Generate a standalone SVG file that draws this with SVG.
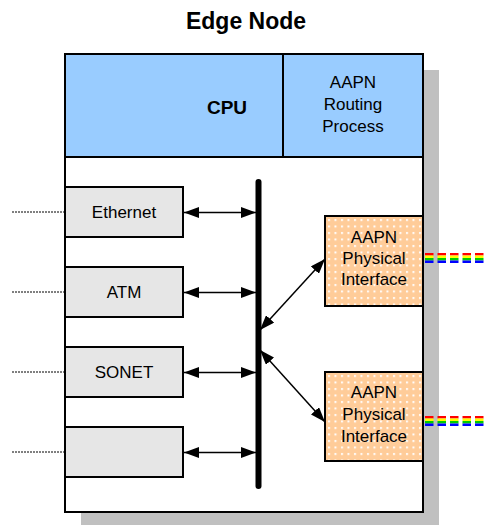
<svg xmlns="http://www.w3.org/2000/svg" width="486" height="525" viewBox="0 0 486 525">
<style>
.t{font-family:"Liberation Sans",Arial,sans-serif;font-size:17px;fill:#000;text-anchor:middle}
.b{font-weight:bold}
.box{stroke:#000;stroke-width:2}
.gray{fill:#E6E6E6}
.dot{fill:none;stroke:#000;stroke-width:1;stroke-dasharray:2 1}
.arr{fill:none;stroke:#000;stroke-width:1.5;marker-start:url(#ah);marker-end:url(#ah)}
.fib{fill:none;stroke-width:2.5;stroke-dasharray:8.5 4}
</style>
<defs>
<marker id="ah" markerUnits="userSpaceOnUse" markerWidth="15" markerHeight="11" refX="15" refY="5.5" orient="auto-start-reverse" viewBox="0 0 15 11">
<path d="M0,0 L15,5.5 L0,11 z" fill="#000"/>
</marker>
<pattern id="dots" patternUnits="userSpaceOnUse" width="6.5" height="6.5" x="327" y="218">
<rect width="6.5" height="6.5" fill="#FFCC99"/>
<rect x="1" y="1" width="2" height="2" fill="#FFFFFF"/>
</pattern>
</defs>
<text id="title" class="t b" x="246" y="29" style="font-size:23px">Edge Node</text>
<g id="edge-node">
<rect x="81" y="70" width="358" height="460" fill="#C0C0C0"/>
<rect class="box" x="65" y="54" width="358" height="458" fill="#FFFFFF"/>
</g>
<g id="cpu">
<rect class="box" x="65" y="54" width="358" height="103" fill="#99CCFF"/>
<text class="t b" x="227" y="114" style="font-size:19px">CPU</text>
</g>
<g id="routing">
<line x1="283" y1="54" x2="283" y2="157" stroke="#000" stroke-width="2"/>
<text class="t" x="353" y="88">AAPN</text>
<text class="t" x="353" y="110">Routing</text>
<text class="t" x="353" y="132">Process</text>
</g>
<g id="ethernet">
<rect class="box gray" x="65" y="187" width="118" height="50"/>
<text class="t" x="124" y="218">Ethernet</text>
</g>
<g id="atm">
<rect class="box gray" x="65" y="267" width="118" height="50"/>
<text class="t" x="124" y="298">ATM</text>
</g>
<g id="sonet">
<rect class="box gray" x="65" y="347" width="118" height="50"/>
<text class="t" x="124" y="378">SONET</text>
</g>
<g id="blank">
<rect class="box gray" x="65" y="427" width="118" height="50"/>
</g>
<g id="bus">
<line x1="258.5" y1="182" x2="258.5" y2="486" stroke="#000" stroke-width="6" stroke-linecap="round"/>
</g>
<g id="phy1">
<rect class="box" x="325" y="216" width="98" height="90" fill="url(#dots)"/>
<text class="t" x="374" y="243">AAPN</text>
<text class="t" x="374" y="264">Physical</text>
<text class="t" x="374" y="285">Interface</text>
</g>
<g id="phy2">
<rect class="box" x="325" y="372" width="98" height="89" fill="url(#dots)"/>
<text class="t" x="374" y="398">AAPN</text>
<text class="t" x="374" y="420">Physical</text>
<text class="t" x="374" y="442">Interface</text>
</g>
<g id="connectors">
<line class="dot" x1="12" y1="212" x2="65" y2="212"/>
<line class="dot" x1="12" y1="292" x2="65" y2="292"/>
<line class="dot" x1="12" y1="372" x2="65" y2="372"/>
<line class="dot" x1="12" y1="452" x2="65" y2="452"/>
<line class="arr" x1="184" y1="212.5" x2="256" y2="212.5"/>
<line class="arr" x1="184" y1="292.5" x2="256" y2="292.5"/>
<line class="arr" x1="184" y1="372.5" x2="256" y2="372.5"/>
<line class="arr" x1="184" y1="452.5" x2="256" y2="452.5"/>
<line class="arr" x1="260" y1="330" x2="325" y2="259"/>
<line class="arr" x1="260" y1="350" x2="325" y2="422"/>
<g id="fiber1">
<line class="fib" stroke="#FF0000" x1="425" y1="254.25" x2="486" y2="254.25"/>
<line class="fib" stroke="#FFFF00" x1="425" y1="256.75" x2="486" y2="256.75"/>
<line class="fib" stroke="#00CC00" x1="425" y1="259.25" x2="486" y2="259.25"/>
<line class="fib" stroke="#0000FF" x1="425" y1="261.75" x2="486" y2="261.75"/>
</g>
<g id="fiber2">
<line class="fib" stroke="#FF0000" x1="425" y1="417.25" x2="486" y2="417.25"/>
<line class="fib" stroke="#FFFF00" x1="425" y1="419.75" x2="486" y2="419.75"/>
<line class="fib" stroke="#00CC00" x1="425" y1="422.25" x2="486" y2="422.25"/>
<line class="fib" stroke="#0000FF" x1="425" y1="424.75" x2="486" y2="424.75"/>
</g>
</g>
</svg>
